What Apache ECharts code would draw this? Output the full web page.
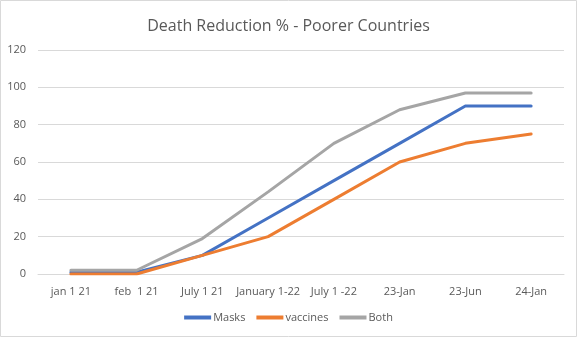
<!DOCTYPE html>
<html><head><meta charset="utf-8">
<script src="https://cdn.jsdelivr.net/npm/echarts@6/dist/echarts.min.js"></script>
<style>html,body{margin:0;padding:0;background:#fff}#c{width:577px;height:337px}</style>
</head><body><div id="c"></div>
<script>
const categories = ['jan 1 21', 'feb  1 21', 'July 1 21', 'January 1-22', 'July 1 -22', '23-Jan', '23-Jun', '24-Jan'];
const masks = [1, 1, 10, 30, 50, 70, 90, 90];
const vaccines = [0, 0, 10, 20, 40, 60, 70, 75];
const both = [2, 2, 19, 44, 70, 88, 97, 97];
const yTicks = {min: 0, max: 120, interval: 20};

const chart = echarts.init(document.getElementById('c'), null, {renderer: 'canvas'});
const font = "'Open Sans', 'Liberation Sans', sans-serif";
const mk = (name, data, color) => ({
  name, type: 'line', data, symbol: 'none', smooth: false,
  lineStyle: {color, width: 3, cap: 'round'}, itemStyle: {color}
});
chart.setOption({
  animation: false,
  title: {text: 'Death Reduction % - Poorer Countries', left: 'center', top: 13,
    textStyle: {fontFamily: font, fontSize: 16, fontWeight: 'normal', color: '#595959'}},
  grid: {left: 38, right: 13, top: 50, bottom: 63},
  legend: {bottom: 9, left: 'center', itemWidth: 27, itemHeight: 4, icon: 'rect', itemGap: 11,
    textStyle: {fontFamily: font, fontSize: 11, color: '#595959', padding: [0, 0, 0, -3]},
    data: ['Masks', 'vaccines', 'Both']},
  xAxis: {type: 'category', data: categories, boundaryGap: true,
    axisLine: {lineStyle: {color: '#d9d9d9', width: 1}}, axisTick: {show: false},
    axisLabel: {fontFamily: font, fontSize: 11, color: '#595959', margin: 12, interval: 0}},
  yAxis: {type: 'value', min: yTicks.min, max: yTicks.max, interval: yTicks.interval,
    axisLine: {show: false}, axisTick: {show: false},
    axisLabel: {fontFamily: font, fontSize: 11, color: '#595959', margin: 12},
    splitLine: {lineStyle: {color: '#d9d9d9', width: 1}}},
  series: [mk('Masks', masks, '#4472C4'), mk('vaccines', vaccines, '#ED7D31'), mk('Both', both, '#A5A5A5')],
  graphic: [{type: 'rect', shape: {x: 0.5, y: 0.5, width: 576, height: 336}, silent: true,
    style: {fill: 'none', stroke: '#d9d9d9', lineWidth: 1}}]
});
</script></body></html>
